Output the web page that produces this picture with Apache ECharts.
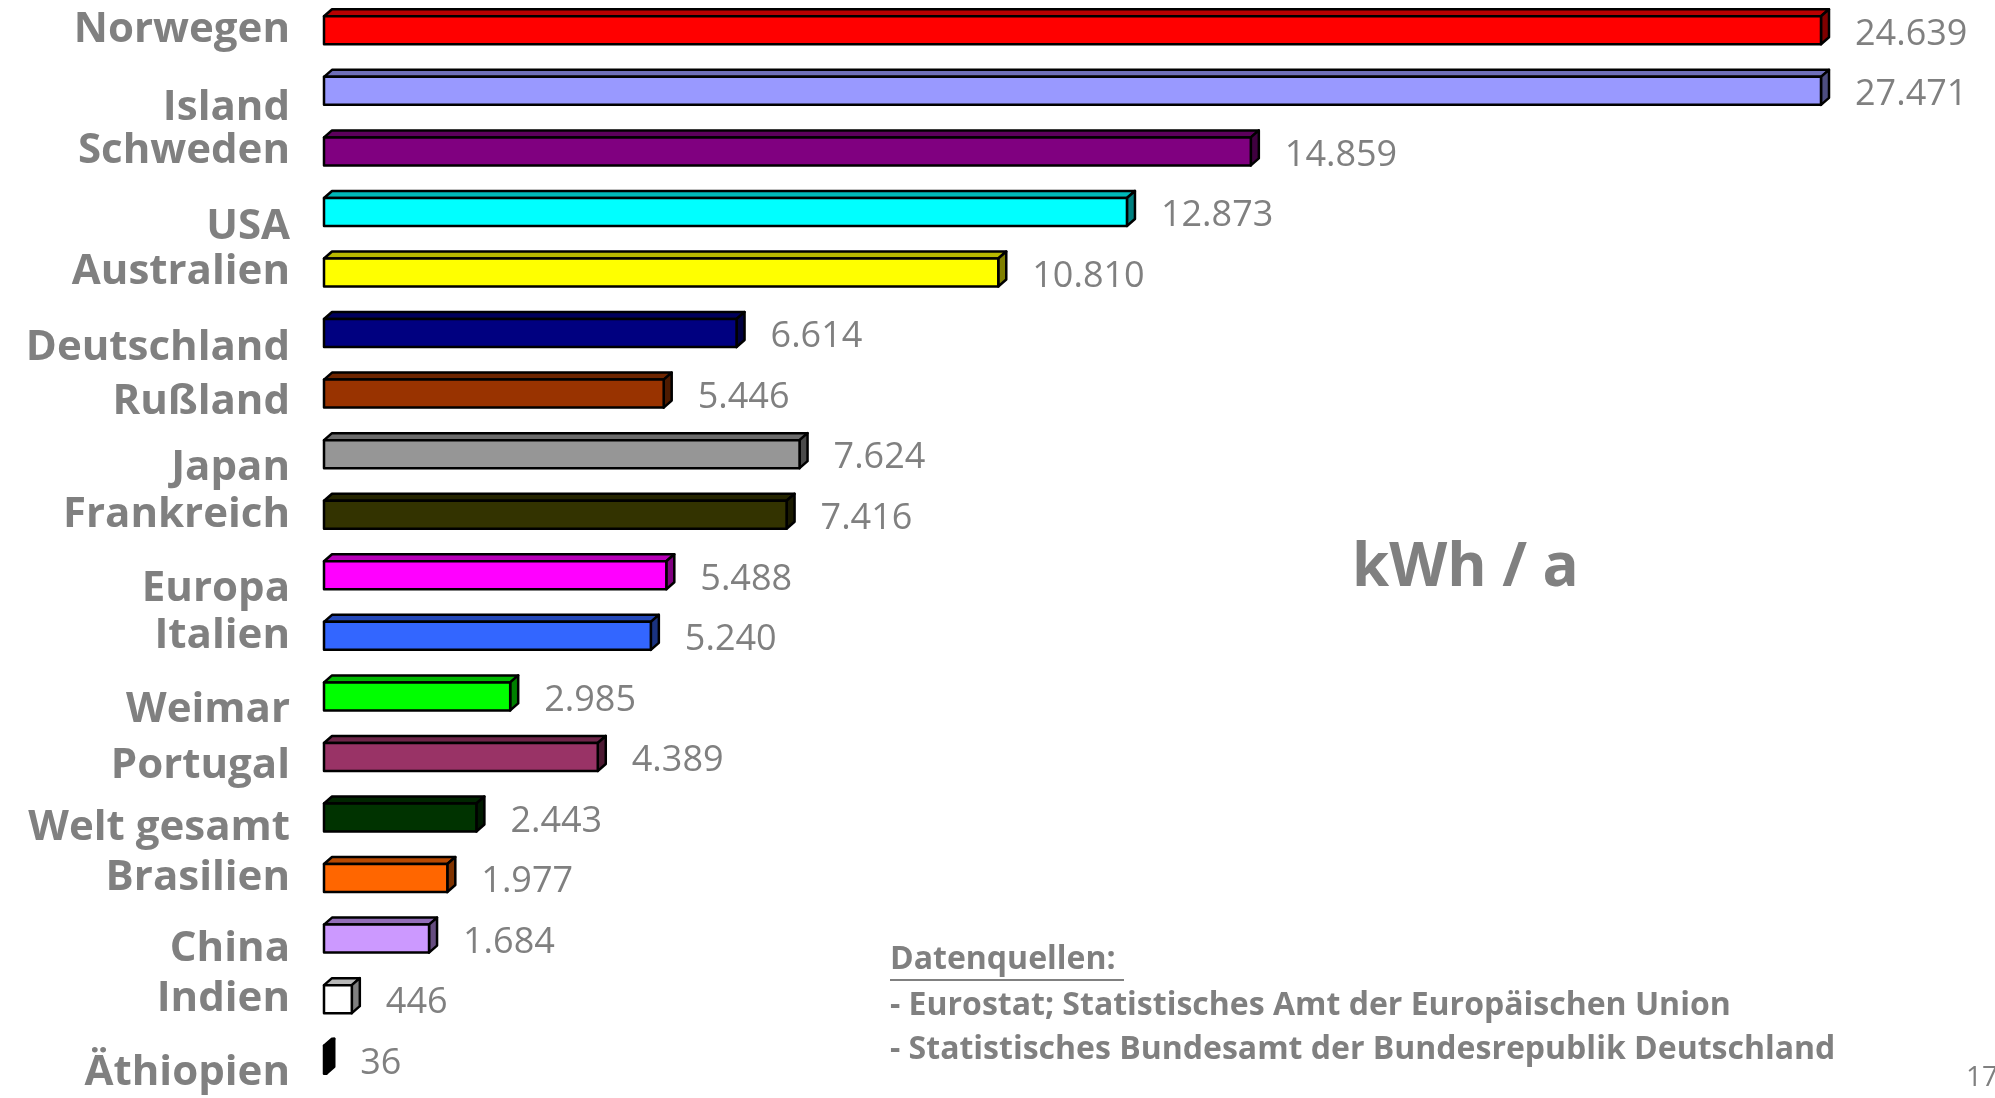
<!DOCTYPE html>
<html>
<head>
<meta charset="utf-8">
<script src="https://cdn.jsdelivr.net/npm/echarts@6/dist/echarts.min.js"></script>
<style>
html,body{margin:0;padding:0;background:#fff;}
#chart{width:1995px;height:1098px;}
</style>
</head>
<body>
<div id="chart"></div>
<script>
// ---- data ----
var categories = ['Norwegen','Island','Schweden','USA','Australien','Deutschland','Rußland','Japan','Frankreich','Europa','Italien','Weimar','Portugal','Welt gesamt','Brasilien','China','Indien','Äthiopien'];
var values = [24639, 27471, 14859, 12873, 10810, 6614, 5446, 7624, 7416, 5488, 5240, 2985, 4389, 2443, 1977, 1684, 446, 36];
var unitLabel = 'kWh / a';
var sourceTitle = 'Datenquellen:';
var sourceLines = ['- Eurostat; Statistisches Amt der Europäischen Union', '- Statistisches Bundesamt der Bundesrepublik Deutschland'];
var pageNumber = '17';

// ---- styles ----
var barColors = ['#FF0000','#9999FF','#800080','#00FFFF','#FFFF00','#000080','#993300','#969696','#333300','#FF00FF','#3366FF','#00FF00','#993366','#003300','#FF6600','#CC99FF','#FFFFFF','#000000'];
var labelShift = [0,17,0,15,0,15,8,14,0,14,0,14,9,11,0,10,0,13];
var GRAY = '#808080';

function shade(hex, f){
  var n = parseInt(hex.slice(1),16);
  var r = Math.round(((n>>16)&255)*f), g = Math.round(((n>>8)&255)*f), b = Math.round((n&255)*f);
  return 'rgb('+r+','+g+','+b+')';
}
function fmt(v){ return String(v).replace(/\B(?=(\d{3})+(?!\d))/g,'.'); }

var rich = {};
categories.forEach(function(c,i){
  rich['s'+i] = {padding:[labelShift[i]*2,0,0,0], fontSize:42, fontWeight:'bold', fontFamily:'Open Sans', color:GRAY};
});

var chart = echarts.init(document.getElementById('chart'));
var H = 28, DX = 8, DY = 7;
chart.setOption({
  backgroundColor:'#fff',
  animation:false,
  grid:{left:324, top:-2, height:1092, width:1497},
  xAxis:{type:'value', min:0, max:24000, show:false},
  yAxis:{type:'category', data:categories, inverse:true,
    axisLine:{show:false}, axisTick:{show:false}, splitLine:{show:false},
    axisLabel:{margin:34, formatter:function(v, i){ return '{s'+i+'|'+v+'}'; }, rich:rich}
  },
  series:[{
    type:'custom',
    data: values.map(function(v,i){ return [i, v]; }),
    encode:{x:1, y:0},
    renderItem:function(params, api){
      var idx = api.value(0), val = api.value(1);
      var cs = params.coordSys;
      var p0 = api.coord([0, idx]);
      var p1 = api.coord([val, idx]);
      var x0 = p0[0], xe = Math.min(p1[0], cs.x + cs.width);
      var yc = p0[1], y0 = yc - H/2, y1 = yc + H/2;
      var col = barColors[idx];
      var stroke = {stroke:'#000', lineWidth:2.5, lineJoin:'round'};
      return {type:'group', children:[
        {type:'polygon', shape:{points:[[x0,y0],[x0+DX,y0-DY],[xe+DX,y0-DY],[xe,y0]]}, style:Object.assign({fill:shade(col,0.72)}, stroke)},
        {type:'polygon', shape:{points:[[xe,y0],[xe+DX,y0-DY],[xe+DX,y1-DY],[xe,y1]]}, style:Object.assign({fill:shade(col,0.5)}, stroke)},
        {type:'rect', shape:{x:x0, y:y0, width:Math.max(xe-x0,0.5), height:H}, style:Object.assign({fill:col}, stroke)},
        {type:'text', x:xe+DX+26, y:yc+4, style:{text:fmt(val), fill:GRAY, fontSize:36, fontFamily:'Open Sans', align:'left', verticalAlign:'middle'}}
      ]};
    }
  }],
  graphic:[
    {type:'text', left:1352, top:539, style:{text:unitLabel, fill:GRAY, fontSize:60, fontWeight:'bold', fontFamily:'Open Sans'}},
    {type:'text', left:890, top:944, style:{text:sourceTitle, fill:GRAY, fontSize:32, fontWeight:'bold', fontFamily:'Open Sans'}},
    {type:'line', shape:{x1:890, y1:980, x2:1124, y2:980}, style:{stroke:GRAY, lineWidth:2}},
    {type:'text', left:890, top:990, style:{text:sourceLines[0], fill:GRAY, fontSize:32, fontWeight:'bold', fontFamily:'Open Sans'}},
    {type:'text', left:890, top:1034, style:{text:sourceLines[1], fill:GRAY, fontSize:32, fontWeight:'bold', fontFamily:'Open Sans'}},
    {type:'text', left:1966, top:1064, style:{text:pageNumber, fill:GRAY, fontSize:28, fontFamily:'Open Sans'}}
  ]
});
</script>
</body>
</html>
